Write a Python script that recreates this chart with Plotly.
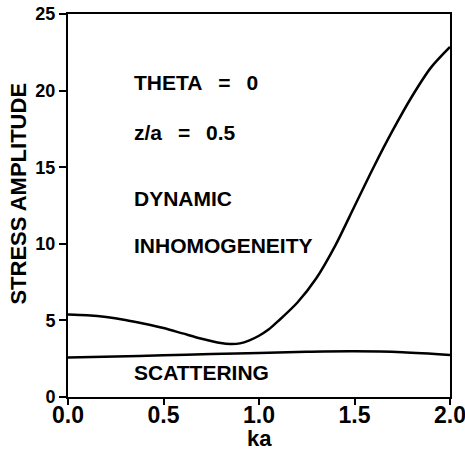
import plotly.graph_objects as go

ka_dyn = [0, 0.1, 0.2, 0.3, 0.4, 0.5, 0.6, 0.7, 0.8, 0.85, 0.9, 0.95, 1.0, 1.05, 1.1, 1.2, 1.3, 1.4, 1.5, 1.6, 1.7, 1.8, 1.9, 2.0]
amp_dyn = [5.38, 5.33, 5.22, 5.03, 4.78, 4.5, 4.15, 3.8, 3.52, 3.46, 3.5, 3.7, 4.0, 4.4, 4.95, 6.15, 7.75, 9.9, 12.45, 15.0, 17.4, 19.6, 21.5, 22.85]

ka_sca = [0, 0.25, 0.5, 0.75, 1.0, 1.25, 1.5, 1.75, 2.0]
amp_sca = [2.58, 2.65, 2.72, 2.8, 2.88, 2.95, 2.98, 2.92, 2.74]

x_ticks = [0, 0.5, 1.0, 1.5, 2.0]
x_labels = ["0.0", "0.5", "1.0", "1.5", "2.0"]
y_ticks = [0, 5, 10, 15, 20, 25]

FONT = "Liberation Sans, Arial, sans-serif"

fig = go.Figure()
fig.add_trace(go.Scatter(x=ka_dyn, y=amp_dyn, mode="lines",
                         line=dict(color="black", width=2.5, shape="spline", smoothing=0.8),
                         showlegend=False, hoverinfo="skip"))
fig.add_trace(go.Scatter(x=ka_sca, y=amp_sca, mode="lines",
                         line=dict(color="black", width=2.5, shape="spline"),
                         showlegend=False, hoverinfo="skip"))

notes = [
    ("<b>THETA\u00a0\u00a0\u2009=\u00a0\u00a0\u20090</b>", 20.5),
    ("<b>z/a\u00a0\u00a0\u2009=\u00a0\u00a0\u20090.5</b>", 17.25),
    ("<b>DYNAMIC</b>", 12.95),
    ("<b>INHOMOGENEITY</b>", 9.9),
    ("<b>SCATTERING</b>", 1.63),
]
for txt, yy in notes:
    fig.add_annotation(x=0.335, y=yy, xref="x", yref="y", text=txt,
                       showarrow=False, xanchor="left", yanchor="middle",
                       font=dict(family=FONT, size=21, color="black"))

fig.add_annotation(x=-0.132, y=0.53, xref="paper", yref="paper",
                   text="<b>STRESS AMPLITUDE</b>", textangle=-90, showarrow=False,
                   xanchor="center", yanchor="middle",
                   font=dict(family=FONT, size=22, color="black"))
fig.add_annotation(x=0.5, y=-0.108, xref="paper", yref="paper",
                   text="<b>ka</b>", showarrow=False,
                   xanchor="center", yanchor="middle",
                   font=dict(family=FONT, size=22, color="black"))

fig.update_layout(
    width=465, height=450,
    margin=dict(l=68, r=15, t=14, b=53, autoexpand=False),
    paper_bgcolor="white", plot_bgcolor="white",
    font=dict(family=FONT, color="black"),
)
fig.update_xaxes(range=[0, 2.0], tickvals=x_ticks, ticktext=x_labels,
                 showgrid=False, zeroline=False, showline=True, linecolor="black",
                 linewidth=2, mirror=True, ticks="outside", ticklen=6, tickwidth=2,
                 tickcolor="black", automargin=False, ticklabeloverflow="allow",
                 ticklabelstandoff=-10,
                 tickfont=dict(family=FONT, size=23, color="black", weight="bold"))
fig.update_yaxes(range=[0, 25], tickvals=y_ticks,
                 showgrid=False, zeroline=False, showline=True, linecolor="black",
                 linewidth=2, mirror=True, ticks="outside", ticklen=7, tickwidth=2,
                 tickcolor="black", automargin=False, ticklabeloverflow="allow",
                 tickfont=dict(family=FONT, size=18, color="black", weight="bold"))

fig.write_html("out.html")
